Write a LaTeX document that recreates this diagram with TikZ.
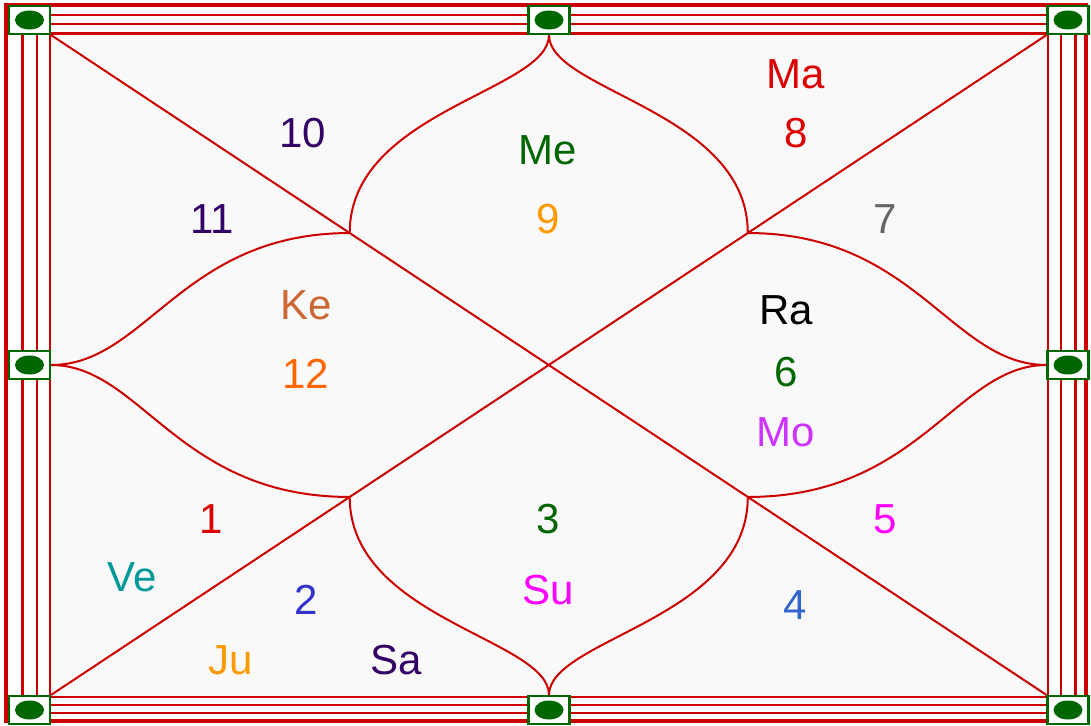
\documentclass[tikz,border=0pt]{standalone}
\usepackage{fontspec}
\setmainfont{Liberation Sans}
\usetikzlibrary{calc}
\definecolor{lnred}{HTML}{CC0000}
\definecolor{bgray}{HTML}{F9F9F9}
\definecolor{sqgreen}{HTML}{006600}
\definecolor{cpurple}{HTML}{330066}
\definecolor{cgreen}{HTML}{006600}
\definecolor{corange}{HTML}{FF9900}
\definecolor{cred}{HTML}{DD0000}
\definecolor{cgray}{HTML}{666666}
\definecolor{cbrown}{HTML}{CC6633}
\definecolor{corangeb}{HTML}{FF6600}
\definecolor{cviolet}{HTML}{CC33FF}
\definecolor{cmagenta}{HTML}{FF00FF}
\definecolor{cteal}{HTML}{009999}
\definecolor{cblue}{HTML}{3333CC}
\definecolor{cblueb}{HTML}{3366CC}
\begin{document}
\begin{tikzpicture}[x=1pt,y=-1pt,
  thinline/.style={draw=lnred,line width=2.2pt},
  thickline/.style={draw=lnred,line width=4pt},
  chart/.style={draw=lnred,line width=2pt},
  sq/.style={draw=sqgreen,line width=2.2pt,fill=white,minimum width=41pt,minimum height=28pt,inner sep=0pt},
  lbl/.style={inner sep=0pt,font=\fontsize{42}{50}\selectfont}]
\useasboundingbox (0,0) rectangle (1091,725);
\fill[white] (0,0) rectangle (1091,725);
\fill[bgray] (50,33.5) rectangle (1048,697);
% border lines
\draw[thickline] (6,5) rectangle (1086,721);
\draw[thinline] (22.5,15) rectangle (1075.5,713);
\draw[thinline] (37,24) rectangle (1061,705);
\draw[thinline] (50,33.5) rectangle (1048,697);
% green squares
\foreach \n/\x/\y in {tl/29.5/20, tm/549/20, tr/1068/20, lm/29.5/365, rm/1068/365, bl/29.5/710, bm/549/710, br/1068/710}{
  \node[sq] (\n) at (\x,\y) {};
  \fill[sqgreen] (\x,\y) ellipse [x radius=14.5pt, y radius=9.5pt];
}
% key points
\coordinate (p1) at ($(tl.south east)!0.3!(br.north west)$);
\coordinate (p4) at ($(tl.south east)!0.7!(br.north west)$);
\coordinate (p2) at ($(tr.south west)!0.3!(bl.north east)$);
\coordinate (p3) at ($(tr.south west)!0.7!(bl.north east)$);
% diagonals
\draw[chart] (tl.south east) -- (br.north west);
\draw[chart] (tr.south west) -- (bl.north east);
% curves
\draw[chart] (tm.south) .. controls +(0,56) and +(0,-122) .. (p1);
\draw[chart] (tm.south) .. controls +(0,56) and +(0,-122) .. (p2);
\draw[chart] (bm.north) .. controls +(0,-56) and +(0,122) .. (p3);
\draw[chart] (bm.north) .. controls +(0,-56) and +(0,122) .. (p4);
\draw[chart] (lm.east) .. controls +(95,0) and +(-168,0) .. (p1);
\draw[chart] (lm.east) .. controls +(90,0) and +(-172,0) .. (p3);
\draw[chart] (rm.west) .. controls +(-95,0) and +(168,0) .. (p2);
\draw[chart] (rm.west) .. controls +(-90,0) and +(172,0) .. (p4);
% labels
\node[lbl,text=cpurple] (h10) at (303,133) {10};
\node[lbl,text=cpurple] (h11) at (212,219) {11};
\node[lbl,text=cgreen] (me) at (548,150) {Me};
\node[lbl,text=corange] (h9) at (548,219) {9};
\node[lbl,text=cred] (ma) at (796,74) {Ma};
\node[lbl,text=cred] (h8) at (796,133) {8};
\node[lbl,text=cgray] (h7) at (885,219) {7};
\node[lbl,text=cbrown] (ke) at (306,305) {Ke};
\node[lbl,text=corangeb] (h12) at (306,374) {12};
\node[lbl,text=black] (ra) at (786,310) {Ra};
\node[lbl,text=cgreen] (h6) at (786,372) {6};
\node[lbl,text=cviolet] (mo) at (786,432) {Mo};
\node[lbl,text=cred] (h1) at (211,519) {1};
\node[lbl,text=cgreen] (h3) at (548,519) {3};
\node[lbl,text=cmagenta] (h5) at (885,519) {5};
\node[lbl,text=cteal] (ve) at (132,577) {Ve};
\node[lbl,text=cblue] (h2) at (306,600) {2};
\node[lbl,text=cmagenta] (su) at (548,590) {Su};
\node[lbl,text=cblueb] (h4) at (795,605) {4};
\node[lbl,text=corange] (ju) at (231,660) {Ju};
\node[lbl,text=cpurple] (sa) at (396,660) {Sa};
\end{tikzpicture}
\end{document}
